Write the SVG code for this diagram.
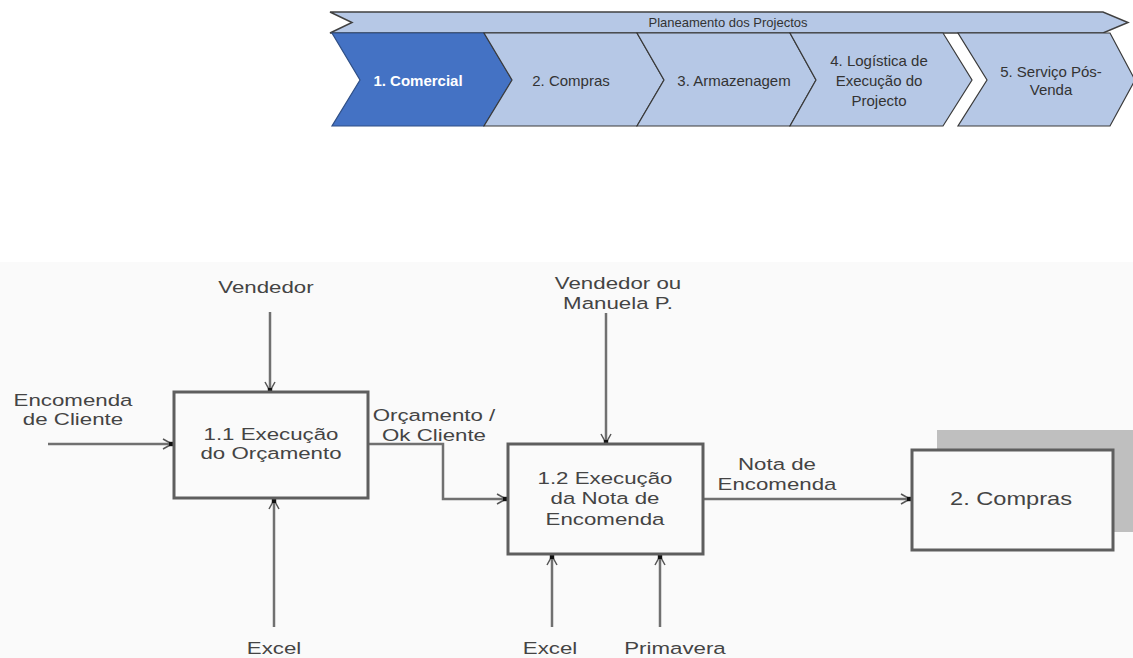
<svg xmlns="http://www.w3.org/2000/svg" width="1133" height="658" viewBox="0 0 1133 658">
  <defs>
    <style>
      .band { fill: #B6C8E6; stroke: #404040; stroke-width: 1.5; stroke-linejoin: miter; }
      .chev { fill: #B6C8E6; stroke: #3A3A3A; stroke-width: 1.2; }
      .chev-on { fill: #4472C4; stroke: #2F4F86; stroke-width: 1.2; }
      .ct { font-family: "Liberation Sans", Arial, sans-serif; font-size: 15px; fill: #333333; text-anchor: middle; }
      .ct-on { font-family: "Liberation Sans", Arial, sans-serif; font-size: 15px; font-weight: bold; fill: #FFFFFF; text-anchor: middle; }
      .bt { font-family: "Liberation Sans", Arial, sans-serif; font-size: 13px; fill: #333333; text-anchor: middle; }
      .box { fill: #FAFAFA; stroke: #5E5E5E; stroke-width: 3; }
      .shadow { fill: #BFBFBF; }
      .lbl { font-family: "Liberation Sans", Arial, sans-serif; font-size: 16.5px; fill: #444444; text-anchor: middle; }
      .flow { fill: none; stroke: #707070; stroke-width: 2.5; marker-end: url(#tip); }
    </style>
    <marker id="tip" markerUnits="userSpaceOnUse" markerWidth="14" markerHeight="14" viewBox="-12 -7 14 14" refX="0" refY="0" orient="auto">
      <path d="M-10,-5 L-1,0 L-10,5" fill="none" stroke="#555555" stroke-width="1.5"/>
      <rect x="-4" y="-2.2" width="4" height="4.4" fill="#111111"/>
    </marker>
  </defs>

  <rect x="0" y="0" width="1133" height="658" fill="#FFFFFF"/>
  <rect x="0" y="262" width="1133" height="396" fill="#FAFAFA"/>

  <!-- value chain banner -->
  <g id="banner">
    <path class="band" d="M330,12 L1103,12 L1128,22.5 L1103,33 L330,33 L352,22.5 Z"/>
    <text class="bt" x="728" y="27" textLength="159" lengthAdjust="spacingAndGlyphs">Planeamento dos Projectos</text>
  </g>

  <g id="stage1">
    <path class="chev-on" d="M332,33 L484,33 L512,80 L484,126 L332,126 L360,80 Z"/>
    <text class="ct-on" x="418" y="86">1. Comercial</text>
  </g>
  <g id="stage2">
    <path class="chev" d="M484,33 L637,33 L664,80 L637,126 L484,126 L512,80 Z"/>
    <text class="ct" x="571" y="86">2. Compras</text>
  </g>
  <g id="stage3">
    <path class="chev" d="M637,33 L790,33 L816,80 L790,126 L637,126 L664,80 Z"/>
    <text class="ct" x="734" y="86">3. Armazenagem</text>
  </g>
  <g id="stage4">
    <path class="chev" d="M790,33 L943,33 L972,80 L943,126 L790,126 L816,80 Z"/>
    <text class="ct" x="879" y="66">4. Logística de</text>
    <text class="ct" x="879" y="86">Execução do</text>
    <text class="ct" x="879" y="106">Projecto</text>
  </g>
  <g id="stage5">
    <path class="chev" d="M958,33 L1110,33 L1135,80 L1110,126 L958,126 L987,80 Z"/>
    <text class="ct" x="1051" y="77">5. Serviço Pós-</text>
    <text class="ct" x="1051" y="95">Venda</text>
  </g>

  <!-- connectors -->
  <g id="connectors">
    <path class="flow" d="M48,444 L173,444"/>
    <path class="flow" d="M270,312 L270,392"/>
    <path class="flow" d="M274,627 L274,499"/>
    <path class="flow" d="M368,444 L443,444 L443,499 L507,499"/>
    <path class="flow" d="M606,313 L606,444"/>
    <path class="flow" d="M552,627 L552,555"/>
    <path class="flow" d="M660,627 L660,555"/>
    <path class="flow" d="M703,499 L911,499"/>
  </g>

  <!-- activity boxes -->
  <g id="box-1-1">
    <rect class="box" x="174" y="392" width="194" height="106"/>
    <g transform="translate(271,440) scale(1.35,1)">
      <text class="lbl" x="0" y="0">1.1 Execução</text>
      <text class="lbl" x="0" y="19">do Orçamento</text>
    </g>
  </g>

  <g id="box-1-2">
    <rect class="box" x="508" y="444" width="195" height="110"/>
    <g transform="translate(605,484) scale(1.35,1)">
      <text class="lbl" x="0" y="0">1.2 Execução</text>
      <text class="lbl" x="0" y="20.5">da Nota de</text>
      <text class="lbl" x="0" y="41">Encomenda</text>
    </g>
  </g>

  <g id="box-2">
    <rect class="shadow" x="937" y="430" width="196" height="102"/>
    <rect class="box" x="912" y="450" width="201" height="100"/>
    <g transform="translate(1011,505) scale(1.35,1)">
      <text class="lbl" x="0" y="0" style="font-size:17.5px">2. Compras</text>
    </g>
  </g>

  <!-- arrow labels -->
  <g id="label-vendedor" transform="translate(266,293) scale(1.35,1)">
    <text class="lbl" x="0" y="0">Vendedor</text>
  </g>
  <g id="label-encomenda-cliente" transform="translate(73,406) scale(1.35,1)">
    <text class="lbl" x="0" y="0">Encomenda</text>
    <text class="lbl" x="0" y="19">de Cliente</text>
  </g>
  <g id="label-excel-1" transform="translate(274,654) scale(1.35,1)">
    <text class="lbl" x="0" y="0">Excel</text>
  </g>
  <g id="label-orcamento" transform="translate(434,421) scale(1.35,1)">
    <text class="lbl" x="0" y="0">Orçamento /</text>
    <text class="lbl" x="0" y="20">Ok Cliente</text>
  </g>
  <g id="label-vendedor-manuela" transform="translate(618,289) scale(1.35,1)">
    <text class="lbl" x="0" y="0">Vendedor ou</text>
    <text class="lbl" x="0" y="20">Manuela P.</text>
  </g>
  <g id="label-excel-2" transform="translate(550,654) scale(1.35,1)">
    <text class="lbl" x="0" y="0">Excel</text>
  </g>
  <g id="label-primavera" transform="translate(675,654) scale(1.35,1)">
    <text class="lbl" x="0" y="0">Primavera</text>
  </g>
  <g id="label-nota" transform="translate(777,470) scale(1.35,1)">
    <text class="lbl" x="0" y="0">Nota de</text>
    <text class="lbl" x="0" y="20">Encomenda</text>
  </g>
</svg>
